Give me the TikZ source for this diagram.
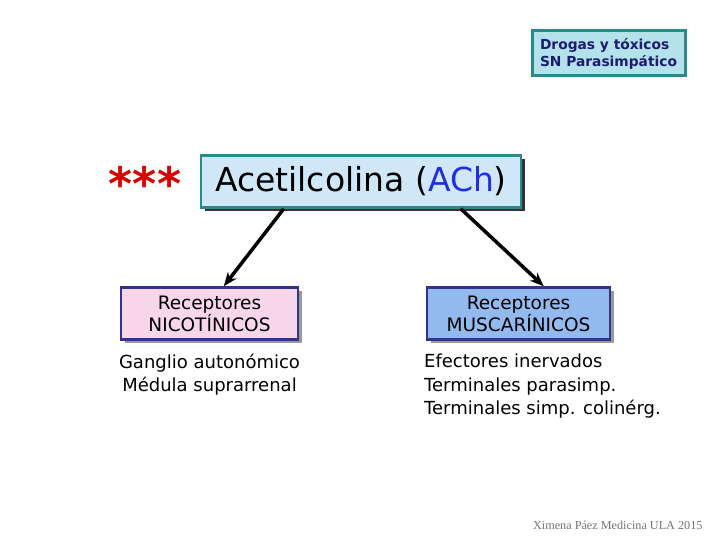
\documentclass[tikz,border=0pt]{standalone}
\usepackage{fontspec}
\setmainfont{DejaVu Sans}
\newfontfamily\footfont{Liberation Serif}
\usepackage{xcolor}
\usetikzlibrary{arrows.meta,positioning,shadows,calc}

\definecolor{tealbd}{HTML}{2A8A8A}
\definecolor{cyanfill}{HTML}{B4E2EA}
\definecolor{achfill}{HTML}{CFE7F7}
\definecolor{navybd}{HTML}{33338F}
\definecolor{pinkfill}{HTML}{F6D6E8}
\definecolor{bluefill}{HTML}{92BAEE}
\definecolor{navytxt}{HTML}{1C1C70}
\definecolor{achblue}{HTML}{1F2FE0}

\begin{document}
\begin{tikzpicture}[
    x=1pt, y=-1pt,
    tag/.style={rectangle, draw=tealbd, line width=3pt, fill=cyanfill, minimum width=153pt, minimum height=45pt, align=left, font=\bfseries\fontsize{13.8}{17}\selectfont, text=navytxt, inner sep=2pt},
    main/.style={rectangle, draw=tealbd, line width=2.5pt, fill=achfill, minimum width=320pt, minimum height=52pt, inner sep=1pt, font=\fontsize{33}{38}\selectfont, drop shadow={shadow xshift=3.5pt, shadow yshift=-3.5pt, fill=black!80, opacity=1}},
    recep/.style={rectangle, draw=navybd, line width=2.5pt, minimum height=52pt, align=center, inner sep=1pt, font=\fontsize{18.5}{22}\selectfont, drop shadow={shadow xshift=3.5pt, shadow yshift=-3.5pt, fill=black!40, opacity=1}},
    info/.style={font=\fontsize{18}{23.5}\selectfont, inner sep=0pt},
    link/.style={-{Stealth[length=14pt, width=11pt]}, line width=3.5pt, black}
]
\useasboundingbox (0,0) rectangle (720,540);

% Top right tag
\node[tag] (tag) at (608.5,53.5) {Drogas y tóxicos\\SN Parasimpático};

% Stars and main box
\node[text=red!85!black, draw=none, font=\bfseries\fontsize{46}{48}\selectfont] (stars) at (145,183) {***};
\node[main] (ach) at (361,181.5) {Acetilcolina (\textcolor{achblue}{ACh})};

% Receptor boxes
\node[recep, fill=pinkfill, minimum width=177pt] (nic) at (209.5,313.5) {Receptores\\NICOTÍNICOS};
\node[recep, fill=bluefill, minimum width=183pt] (mus) at (518.5,313.5) {Receptores\\MUSCARÍNICOS};

% Targets
\node[info, align=center, below=13pt of nic] (nictxt) {Ganglio autonómico\\Médula suprarrenal};
\node[info, align=left, anchor=north west] (mustxt) at (424,354) {Efectores inervados\\Terminales parasimp.\\Terminales simp. colinérg.};

% Connections
\coordinate (achL) at ($(ach.south west)+(84,0)$);
\coordinate (achR) at ($(ach.south west)+(261,0)$);
\coordinate (nicT) at ($(nic.north west)+(104,0)$);
\coordinate (musT) at ($(mus.north west)+(118,0)$);
\draw[link] (achL) -- (nicT);
\draw[link] (achR) -- (musT);

% Footer
\node[font=\footfont\fontsize{12.2}{14}\selectfont, text=black!55, anchor=east] (foot) at (706,525) {Ximena Páez Medicina ULA 2015};

\end{tikzpicture}
\end{document}
